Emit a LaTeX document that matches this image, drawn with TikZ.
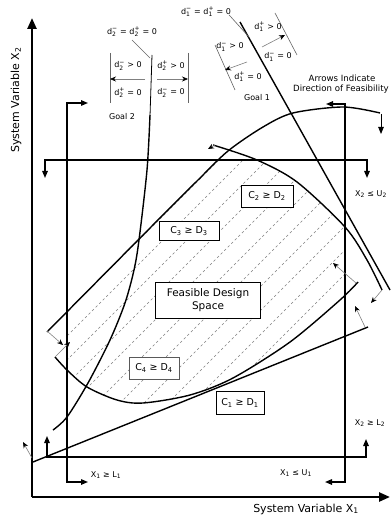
\documentclass[tikz,border=0pt]{standalone}
\usepackage{amsmath}
\usepackage{fontspec}
\setmainfont{DejaVu Sans}
\usetikzlibrary{arrows.meta}
\newcommand\dvar[2]{\(\text{d}^{\text{#2}}_{\text{#1}}\)}
\tikzset{
 axis/.style={line width=2.4pt, -{Triangle[length=11pt,width=9pt]}},
 bound/.style={line width=1.4pt, {Triangle[length=7pt,width=5.5pt]}-{Triangle[length=7pt,width=5.5pt]}},
 curve/.style={line width=1.4pt},
 thincurve/.style={line width=0.8pt},
 thinarrow/.style={draw=gray, line width=0.6pt, -{Stealth[length=6pt,width=5pt,color=black]}},
 blackarrow/.style={line width=0.9pt, -{Triangle[length=7pt,width=5.5pt]}},
 hatch/.style={gray, line width=0.5pt, dash pattern=on 2.5pt off 2.5pt},
 lbl/.style={font=\fontsize{8}{9.5}\selectfont, inner sep=0pt},
 biglbl/.style={font=\fontsize{11}{13}\selectfont, inner sep=0pt},
 cbox/.style={draw, fill=white, line width=0.8pt, font=\fontsize{9.5}{11}\selectfont, inner sep=0pt},
 bracket/.style={draw=gray!80!black, line width=0.6pt},
}
\begin{document}
\begin{tikzpicture}[x=1pt,y=-1pt]
\useasboundingbox (0,0) rectangle (391,518);
\fill[white] (0,0) rectangle (391,518);

% key points
\coordinate (O) at (32,497);
\coordinate (Ytop) at (32,18);
\coordinate (Xend) at (390,497);

% hatching of feasible region
\begin{scope}
\clip (67,160) rectangle (345,457);
\clip plot[smooth] coordinates {(47,332) (150,228) (197,181) (228,151) (263,127) (293,113) (343,107) (380,113)} -- (600,113) -- (600,600) -- (47,600) -- cycle;
\clip plot[smooth] coordinates {(213,145) (257,160) (297,182) (345,227) (367,260) (382,290)} -- (382,600) -- (0,600) -- (0,145) -- cycle;
\clip plot[smooth] coordinates {(55,357) (67,370) (87,387) (117,400) (143,403) (190,395) (233,378) (290,342) (340,300) (358,282)} -- (358,0) -- (55,0) -- cycle;
\foreach \c in {379,403,...,667} {
  \draw[hatch] (\c-470,470) -- (\c-130,130);
}
\end{scope}

% axes
\draw[axis] (O) -- (Ytop);
\draw[axis] (O) -- (Xend);

% bounds
\draw[bound] (88,103) -- (67,103) -- (67,482) -- (88,482);
\draw[bound] (326,104) -- (345,104) -- (345,482) -- (325,482);
\draw[bound] (45,178) -- (45,160) -- (367,160) -- (367,178);
\draw[bound] (47,436) -- (47,457) -- (366,457) -- (366,439);

% goal 2 curve
\coordinate (G2a) at (152,55);
\coordinate (G2b) at (150,116);
\draw[thincurve] (G2a) -- (G2b);
\draw[curve] plot[smooth] coordinates {(150,115) (147,170) (139,240) (134,270) (125,303) (110,340) (88,383) (67,417) (53,430)};
% goal 1 line
\coordinate (G1a) at (240,22);
\coordinate (G1b) at (390,290);
\draw[curve] (G1a) -- (G1b);

% constraint C3 (big arc)
\draw[curve] plot[smooth] coordinates {(47,332) (150,228) (197,181) (228,151) (263,127) (293,113) (343,107) (380,113)};
\coordinate (C3s) at (47,331);
\coordinate (C3sa) at (63,345);
\coordinate (C3e) at (381,114);
\coordinate (C3ea) at (381,134);
\draw[thinarrow] (C3s) -- (C3sa);
\draw[blackarrow] (C3e) -- (C3ea);

% constraint C2
\draw[curve] plot[smooth] coordinates {(213,145) (257,160) (297,182) (345,227) (367,260) (382,290)};
\coordinate (C2s) at (215,145);
\coordinate (C2sa) at (208,149);
\coordinate (C2e) at (382,290);
\coordinate (C2ea) at (371,303);
\draw[thinarrow] (C2s) -- (C2sa);
\draw[thinarrow] (C2e) -- (C2ea);

% constraint C4
\draw[curve] plot[smooth] coordinates {(55,357) (67,370) (87,387) (117,400) (143,403) (190,395) (233,378) (290,342) (340,300) (358,282)};
\coordinate (C4s) at (55,357);
\coordinate (C4sa) at (70,342);
\coordinate (C4e) at (356,283);
\coordinate (C4ea) at (333,263);
\draw[thinarrow] (C4s) -- (C4sa);
\draw[thinarrow] (C4e) -- (C4ea);

% constraint C1
\coordinate (C1a) at (33,462);
\coordinate (C1b) at (368,327);
\draw[curve] (C1a) -- (C1b);
\coordinate (C1as) at (32,458);
\coordinate (C1aa) at (23,442);
\coordinate (C1bs) at (365,327);
\coordinate (C1bb) at (355,306);
\draw[thinarrow] (C1as) -- (C1aa);
\draw[thinarrow] (C1bs) -- (C1bb);

% goal 2 annotation
\node[lbl] (g2eq) at (132,32) {\dvar{2}{−} = \dvar{2}{+} = 0};
\coordinate (g2lead) at (150,58);
\draw[bracket] (g2eq.south) ++(0,3) -- (g2lead);
\draw[bracket] (110,53) -- (110,103);
\draw[bracket] (188,53) -- (188,103);
\coordinate (g2l) at (110,79);
\coordinate (g2r) at (188,79);
\draw[thinarrow] (145,79) -- (g2l);
\draw[thinarrow] (157,79) -- (g2r);
\node[lbl] (g2a) at (128,66) {\dvar{2}{−} > 0};
\node[lbl] (g2b) at (128,93) {\dvar{2}{+} = 0};
\node[lbl] (g2c) at (171,66) {\dvar{2}{+} > 0};
\node[lbl] (g2d) at (171,93) {\dvar{2}{−} = 0};
\node[lbl] (goal2) at (122,117) {Goal 2};

% goal 1 annotation
\node[lbl] (g1eq) at (206,12) {\dvar{1}{−} = \dvar{1}{+} = 0};
\coordinate (g1lead) at (249,37);
\draw[bracket] (g1eq.east) ++(-2,3) -- (g1lead);
\draw[bracket] (275,13) -- (297,55);
\draw[bracket] (215,45) -- (235,90);
\coordinate (g1r) at (285,35);
\coordinate (g1l) at (225,70);
\draw[thinarrow] (262,47) -- (g1r);
\draw[thinarrow] (247,62) -- (g1l);
\node[lbl] (g1a) at (268,27) {\dvar{1}{+} > 0};
\node[lbl] (g1b) at (278,57) {\dvar{1}{−} = 0};
\node[lbl] (g1c) at (230,47) {\dvar{1}{−} > 0};
\node[lbl] (g1d) at (248,77) {\dvar{1}{+} = 0};
\node[lbl] (goal1) at (257,98) {Goal 1};
\node[lbl, font=\fontsize{8.6}{10}\selectfont] (arr1) at (342,78) {Arrows Indicate};
\node[lbl, font=\fontsize{8.6}{10}\selectfont] (arr2) at (341,89) {Direction of Feasibility};

% bound labels
\node[lbl] (u2) at (371,194) {X\textsubscript{2} ≤ U\textsubscript{2}};
\node[lbl] (l2) at (370,423) {X\textsubscript{2} ≥ L\textsubscript{2}};
\node[lbl] (l1) at (106,475) {X\textsubscript{1} ≥ L\textsubscript{1}};
\node[lbl] (u1) at (296,473) {X\textsubscript{1} ≤ U\textsubscript{1}};

% constraint boxes
\node[cbox, minimum width=52pt, minimum height=22pt] (bc2) at (267,196) {C\textsubscript{2} ≥ D\textsubscript{2}};
\node[cbox, minimum width=60pt, minimum height=19pt] (bc3) at (189,231) {C\textsubscript{3} ≥ D\textsubscript{3}};
\node[cbox, minimum width=105pt, minimum height=36pt, align=center, font=\fontsize{10.5}{13}\selectfont] (fds) at (208,300) {Feasible Design\\Space};
\node[cbox, draw=gray!70!black, minimum width=50pt, minimum height=22pt] (bc4) at (154,368) {C\textsubscript{4} ≥ D\textsubscript{4}};
\node[cbox, minimum width=48pt, minimum height=23pt] (bc1) at (240,403) {C\textsubscript{1} ≥ D\textsubscript{1}};

% axis labels
\node[biglbl, rotate=90] (ylab) at (16,100) {System Variable X\textsubscript{2}};
\node[biglbl] (xlab) at (306,509) {System Variable X\textsubscript{1}};
\end{tikzpicture}
\end{document}
